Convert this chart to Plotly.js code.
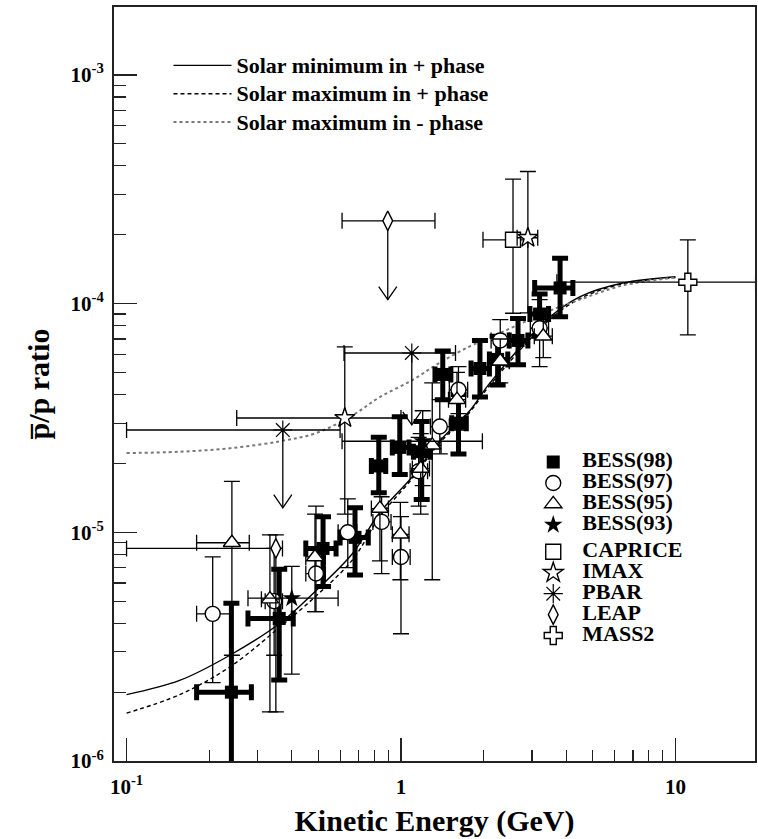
<!DOCTYPE html>
<html><head><meta charset="utf-8">
<script src="https://cdn.plot.ly/plotly-3.0.1.min.js"></script>
<style>body{margin:0;background:#fff}#chart{width:758px;height:839px}</style>
</head><body><div id="chart"></div>
<script>
// ---- model curves (kinetic energy in GeV, pbar/p ratio) ----
const curveE        = [0.1, 0.156, 0.238, 0.362, 0.493, 0.667, 0.837, 1.10, 1.38, 1.78, 2.11, 3.48, 4.48, 6.43, 10];
const solarMinPlus  = [1.95e-6, 2.25e-6, 2.9e-6, 4.0e-6, 5.6e-6, 8.1e-6, 1.22e-5, 1.75e-5, 2.5e-5, 3.4e-5, 4.5e-5, 8.7e-5, 1.07e-4, 1.23e-4, 1.31e-4];
const solarMaxPlus  = [1.62e-6, 1.95e-6, 2.58e-6, 3.85e-6, 5.3e-6, 7.6e-6, 1.17e-5, 1.72e-5, 2.45e-5, 3.35e-5, 4.4e-5, 8.5e-5, 1.05e-4, 1.22e-4, 1.30e-4];
const solarMaxMinus = [2.22e-5, 2.25e-5, 2.33e-5, 2.5e-5, 2.72e-5, 3.25e-5, 3.9e-5, 4.63e-5, 5.5e-5, 6.5e-5, 7.1e-5, 9.3e-5, 1.04e-4, 1.2e-4, 1.3e-4];

// ---- BESS(98) ----
const bess98E   = [0.241, 0.36, 0.52, 0.68, 0.83, 0.99, 1.19, 1.42, 1.62, 1.94, 2.25, 2.67, 3.2, 3.8];
const bess98R   = [2.0e-6, 4.2e-6, 8.5e-6, 9.5e-6, 1.95e-5, 2.35e-5, 2.25e-5, 4.9e-5, 3.0e-5, 5.2e-5, 5.7e-5, 6.9e-5, 9.0e-5, 1.17e-4];
const bess98Elo = [0.18, 0.277, 0.45, 0.60, 0.78, 0.93, 1.11, 1.33, 1.53, 1.80, 2.10, 2.48, 2.95, 3.07];
const bess98Ehi = [0.285, 0.405, 0.58, 0.76, 0.88, 1.07, 1.28, 1.52, 1.73, 2.10, 2.45, 2.90, 3.45, 4.23];
const bess98Rlo = [8e-7, 2.26e-6, 5.8e-6, 6.5e-6, 1.49e-5, 1.79e-5, 1.39e-5, 3.8e-5, 2.2e-5, 3.9e-5, 4.4e-5, 5.4e-5, 7.2e-5, 8.75e-5];
const bess98Rhi = [4.9e-6, 6.9e-6, 1.17e-5, 1.28e-5, 2.6e-5, 3.2e-5, 3.05e-5, 6.2e-5, 4.0e-5, 6.9e-5, 7.2e-5, 8.6e-5, 1.1e-4, 1.58e-4];

// ---- BESS(97) ----
const bess97E   = [0.206, 0.345, 0.49, 0.64, 0.85, 1.0, 1.16, 1.385, 1.62, 2.3, 3.2];
const bess97R   = [4.4e-6, 5.0e-6, 6.6e-6, 1.0e-5, 1.11e-5, 7.8e-6, 1.85e-5, 2.9e-5, 4.2e-5, 6.9e-5, 7.8e-5];
const bess97Elo = [0.18, 0.32, 0.45, 0.59, 0.79, 0.93, 1.08, 1.28, 1.50, 2.13, 2.96];
const bess97Ehi = [0.24, 0.37, 0.53, 0.69, 0.92, 1.08, 1.25, 1.50, 1.75, 2.48, 3.45];
const bess97Rlo = [2.2e-6, 2.9e-6, 4.5e-6, 7.0e-6, 6.6e-6, 3.6e-6, 1.3e-5, 2.2e-5, 3.3e-5, 5.5e-5, 5.3e-5];
const bess97Rhi = [7.8e-6, 8.5e-6, 1.3e-5, 1.4e-5, 1.43e-5, 1.17e-5, 2.6e-5, 3.8e-5, 5.3e-5, 8.5e-5, 1.04e-4];

// ---- BESS(95) ----
const bess95E   = [0.242, 0.333, 0.486, 0.838, 0.995, 1.18, 1.30, 1.6, 2.3, 3.3];
const bess95R   = [9.0e-6, 5.1e-6, 7.8e-6, 1.27e-5, 9.8e-6, 1.9e-5, 2.4e-5, 3.8e-5, 5.6e-5, 7.2e-5];
const bess95Elo = [0.18, 0.31, 0.45, 0.78, 0.93, 1.10, 1.21, 1.49, 2.13, 3.06];
const bess95Ehi = [0.28, 0.36, 0.53, 0.90, 1.07, 1.27, 1.40, 1.72, 2.48, 3.56];
const bess95Rlo = [2.9e-6, 1.64e-6, 4.5e-6, 7.5e-6, 6.2e-6, 1.2e-5, 6.2e-6, 2.8e-5, 4.5e-5, 5.8e-5];
const bess95Rhi = [1.67e-5, 9.75e-6, 1.2e-5, 1.9e-5, 1.35e-5, 2.7e-5, 4.5e-5, 5.0e-5, 7.0e-5, 9.0e-5];

// ---- BESS(93) ----
const bess93E   = [0.40, 1.2];
const bess93R   = [5.15e-6, 2.5e-5];
const bess93Elo = [0.277, 0.61];
const bess93Ehi = [0.59, 1.98];
const bess93Rlo = [2.4e-6, 1.6e-5];
const bess93Rhi = [7.1e-6, 3.4e-5];

// ---- CAPRICE ----
const capriceE = [2.56], capriceR = [1.9e-4];
const capriceElo = [1.99], capriceEhi = [2.9];
const capriceRlo = [9.07e-5], capriceRhi = [3.5e-4];

// ---- IMAX ----
const imaxE   = [0.624, 2.9];
const imaxR   = [3.16e-5, 1.94e-4];
const imaxElo = [0.252, 2.65];
const imaxEhi = [1.0, 3.15];
const imaxRlo = [1.2e-5, 9.1e-5];
const imaxRhi = [6.47e-5, 3.78e-4];

// ---- PBAR (upper limits) ----
const pbarE   = [0.371, 1.095];
const pbarR   = [2.8e-5, 6.08e-5];
const pbarElo = [0.1, 0.62];
const pbarEhi = [0.6, 1.58];
const pbarLimitTip = [1.28e-5, 2.95e-5];

// ---- LEAP ----
const leapE   = [0.35, 0.895];
const leapR   = [8.5e-6, 2.3e-4];
const leapElo = [0.1, 0.61];
const leapEhi = [0.37, 1.33];
const leapRlo = [1.64e-6, null];
const leapRhi = [9.75e-6, null];
const leapLimitTip = [null, 1.04e-4];

// ---- MASS2 ----
const mass2E = [11.1], mass2R = [1.24e-4];
const mass2Elo = [3.7], mass2Ehi = [19.6];
const mass2Rlo = [7.3e-5], mass2Rhi = [1.9e-4];

// ---- ticks ----
const xTickVals = [0.1, 1, 10];
const xTickText = ['10<sup>-1</sup>', '1', '10'];
const xMinorVals = [0.2,0.3,0.4,0.5,0.6,0.7,0.8,0.9,2,3,4,5,6,7,8,9];
const yTickVals = [1e-6, 1e-5, 1e-4, 1e-3];
const yTickText = ['10<sup>-6</sup>', '10<sup>-5</sup>', '10<sup>-4</sup>', '10<sup>-3</sup>'];
const yMinorVals = [2e-6,3e-6,4e-6,5e-6,6e-6,7e-6,8e-6,9e-6,2e-5,3e-5,4e-5,5e-5,6e-5,7e-5,8e-5,9e-5,2e-4,3e-4,4e-4,5e-4,6e-4,7e-4,8e-4,9e-4];

// ---------------------------------------------------------------
function diffs(v, lo, hi) {
  return {
    plus: v.map((x, i) => (hi && hi[i] != null) ? hi[i] - x : NaN),
    minus: v.map((x, i) => (lo && lo[i] != null) ? x - lo[i] : NaN)
  };
}
const SPAN = '<span style="font-family:Liberation Serif;font-weight:bold;font-size:22px">';
function pts(name, group, E, R, Elo, Ehi, Rlo, Rhi, marker, thick) {
  const ex = diffs(E, Elo, Ehi), ey = diffs(R, Rlo, Rhi);
  const t = thick ? 5 : 1.3, w = 8;
  return {
    type: 'scatter', mode: 'markers', name: SPAN + name + '</span>',
    legend: 'legend2', legendgroup: group,
    x: E, y: R, marker: marker, cliponaxis: true,
    error_x: {type: 'data', symmetric: false, array: ex.plus, arrayminus: ex.minus, color: 'black', thickness: t, width: w},
    error_y: Rlo ? {type: 'data', symmetric: false, array: ey.plus, arrayminus: ey.minus, color: 'black', thickness: t, width: w} : {visible: false}
  };
}
function arrows(E, R, tip) {
  const f = Math.pow(10, 0.033), g = Math.pow(10, 0.057);
  const xs = [], ys = [];
  E.forEach((e, i) => {
    if (tip[i] == null) return;
    xs.push(e, e, null, e / f, e, e * f, null);
    ys.push(R[i], tip[i], null, tip[i] * g, tip[i], tip[i] * g, null);
  });
  return {type: 'scatter', mode: 'lines', x: xs, y: ys, showlegend: false, hoverinfo: 'skip',
          line: {color: 'black', width: 1.3}, connectgaps: false};
}
const open = (sym, size) => ({symbol: sym, size: size, color: 'white', line: {color: 'black', width: 1.4}});

const traces = [
  {type: 'scatter', mode: 'lines', name: SPAN + 'Solar minimum in + phase</span>', legend: 'legend', legendgroup: 'c1',
   x: curveE, y: solarMinPlus, line: {color: 'black', width: 1.4, shape: 'spline'}},
  {type: 'scatter', mode: 'lines', name: SPAN + 'Solar maximum in + phase</span>', legend: 'legend', legendgroup: 'c2',
   x: curveE, y: solarMaxPlus, line: {color: 'black', width: 1.4, dash: '4px,3px', shape: 'spline'}},
  {type: 'scatter', mode: 'lines', name: SPAN + 'Solar maximum in - phase</span>', legend: 'legend', legendgroup: 'c3',
   x: curveE, y: solarMaxMinus, line: {color: '#777', width: 2, dash: 'dot', shape: 'spline'}},
  arrows(pbarE, pbarR, pbarLimitTip),
  arrows(leapE, leapR, leapLimitTip),
  pts('BESS(98)', 'bess', bess98E, bess98R, bess98Elo, bess98Ehi, bess98Rlo, bess98Rhi, {symbol: 'square', size: 13, color: 'black'}, true),
  pts('BESS(97)', 'bess', bess97E, bess97R, bess97Elo, bess97Ehi, bess97Rlo, bess97Rhi, open('circle', 15), false),
  pts('BESS(95)', 'bess', bess95E, bess95R, bess95Elo, bess95Ehi, bess95Rlo, bess95Rhi, open('triangle-up', 15), false),
  pts('BESS(93)', 'bess', bess93E, bess93R, bess93Elo, bess93Ehi, bess93Rlo, bess93Rhi, {symbol: 'star', size: 14, color: 'black'}, false),
  pts('CAPRICE', 'other', capriceE, capriceR, capriceElo, capriceEhi, capriceRlo, capriceRhi, open('square', 15), false),
  pts('IMAX', 'other', imaxE, imaxR, imaxElo, imaxEhi, imaxRlo, imaxRhi, open('star', 15), false),
  pts('PBAR', 'other', pbarE, pbarR, pbarElo, pbarEhi, null, null, {symbol: 'asterisk-open', size: 16, color: 'black', line: {color: 'black', width: 1.2}}, false),
  pts('LEAP', 'other', leapE, leapR, leapElo, leapEhi, leapRlo, leapRhi, open('diamond-tall', 14), false),
  pts('MASS2', 'other', mass2E, mass2R, mass2Elo, mass2Ehi, mass2Rlo, mass2Rhi, open('cross', 15), false)
];

const axisFont = {family: 'Liberation Serif', size: 21, color: 'black', weight: 'bold'};
const layout = {
  width: 758, height: 839,
  margin: {l: 114, r: 3, t: 7, b: 78},
  paper_bgcolor: 'white', plot_bgcolor: 'white',
  font: {family: 'Liberation Serif', color: 'black'},
  showlegend: true,
  xaxis: {
    type: 'log', range: [Math.log10(0.09), Math.log10(19.5)],
    tickmode: 'array', tickvals: xTickVals, ticktext: xTickText,
    ticks: 'inside', ticklen: 23, tickwidth: 1.4, tickcolor: '#222',
    minor: {tickmode: 'array', tickvals: xMinorVals, ticks: 'inside', ticklen: 11, tickwidth: 1.2, tickcolor: '#222', showgrid: false},
    showline: true, linecolor: '#222', linewidth: 2, mirror: true,
    showgrid: false, zeroline: false, tickfont: axisFont, ticklabelstandoff: 6,
    title: {text: 'Kinetic Energy (GeV)', font: {family: 'Liberation Serif', size: 30, weight: 'bold', color: 'black'}, standoff: 12}
  },
  yaxis: {
    type: 'log', range: [-6, Math.log10(1.98e-3)],
    tickmode: 'array', tickvals: yTickVals, ticktext: yTickText,
    ticks: 'inside', ticklen: 23, tickwidth: 1.4, tickcolor: '#222',
    minor: {tickmode: 'array', tickvals: yMinorVals, ticks: 'inside', ticklen: 12, tickwidth: 1.2, tickcolor: '#222', showgrid: false},
    showline: true, linecolor: '#222', linewidth: 2, mirror: true,
    showgrid: false, zeroline: false, tickfont: axisFont, ticklabelstandoff: 4,
    title: {text: 'p\u0305/p ratio', font: {family: 'Liberation Serif', size: 30, weight: 'bold', color: 'black'}, standoff: 12}
  },
  legend: {
    x: 0.085, y: 0.948, xanchor: 'left', yanchor: 'top',
    bgcolor: 'rgba(0,0,0,0)', borderwidth: 0,
    font: {family: 'Liberation Serif', size: 19.5, weight: 'bold', color: 'black'},
    itemwidth: 58, tracegroupgap: 0, traceorder: 'normal'
  },
  legend2: {
    x: 0.64, y: 0.417, xanchor: 'left', yanchor: 'top',
    bgcolor: 'rgba(0,0,0,0)', borderwidth: 0,
    font: {family: 'Liberation Serif', size: 13.8, weight: 'bold', color: 'black'},
    itemwidth: 48, tracegroupgap: 6, traceorder: 'grouped'
  }
};

Plotly.newPlot('chart', traces, layout, {displayModeBar: false, staticPlot: true});
</script>
</body></html>
